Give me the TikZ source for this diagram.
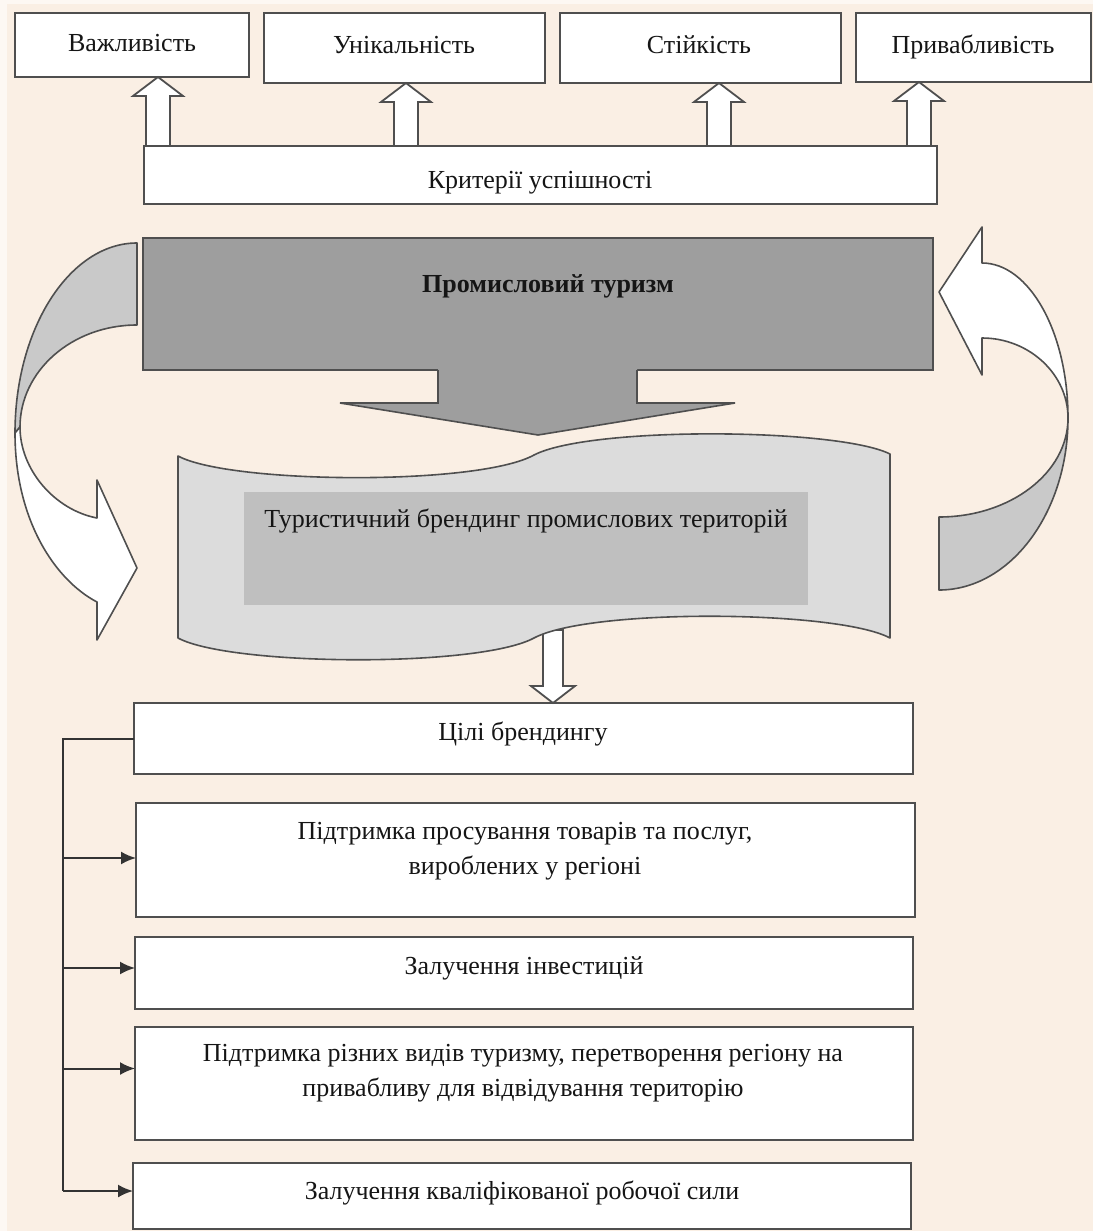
\documentclass[tikz,border=0pt]{standalone}
\usepackage{fontspec}
\setmainfont{Liberation Serif}
\usetikzlibrary{arrows.meta}
\definecolor{bg}{HTML}{FAEFE4}
\definecolor{edge}{HTML}{4F4F4F}
\definecolor{txt}{HTML}{151515}
\definecolor{darkbox}{HTML}{9E9E9E}
\definecolor{banner}{HTML}{DCDCDC}
\definecolor{innerbox}{HTML}{BFBFBF}
\definecolor{ribbon}{HTML}{C9C9C9}
\begin{document}
\begin{tikzpicture}[x=1pt,y=-1pt,
  box/.style={draw=edge, line width=2.2pt, fill=white, inner sep=0pt, outer sep=0pt},
  lbl/.style={font=\fontsize{26}{35}\selectfont, text=txt, align=center, inner sep=0pt, anchor=base},
  hollow/.style={draw=edge, line width=1.8pt, fill=white, line join=miter},
  outl/.style={draw=edge, line width=1.6pt, line join=round},
  conn/.style={draw=black!80, line width=2pt},
  tip/.style={-{Latex[length=15pt,width=13pt]}}]
% background
\fill[bg] (0,0) rectangle (1093,1231);
\fill[white!55!bg] (0,0) rectangle (7,1231);
\fill[white!55!bg] (0,0) rectangle (1093,4);
\useasboundingbox (0,0) rectangle (1093,1231);

% top boxes
\node[box, minimum width=234pt, minimum height=64pt] (imp) at (132,45) {};
\node[box, minimum width=281pt, minimum height=70pt] (uniq) at (404.5,48) {};
\node[box, minimum width=281pt, minimum height=70pt] (stab) at (700.5,48) {};
\node[box, minimum width=235pt, minimum height=69pt] (attr) at (973.5,47.5) {};
\node[lbl] (impt) at (132,52) {Важливість};
\node[lbl] (uniqt) at (404,53) {Унікальність};
\node[lbl] (stabt) at (699,53) {Стійкість};
\node[lbl] (attrt) at (973,53) {Привабливість};

% criteria box
\node[box, minimum width=793pt, minimum height=58pt] (crit) at (540.5,175) {};
\node[lbl] (critt) at (540,188) {Критерії успішності};

% hollow up arrows
\newcommand{\hollowup}[2]{%
  \draw[hollow] (#1) -- ([xshift=25pt,yshift=-19pt]#1) -- ([xshift=12pt,yshift=-19pt]#1)
    -- ([xshift=12pt]#2) -- ([xshift=-12pt]#2) -- ([xshift=-12pt,yshift=-19pt]#1)
    -- ([xshift=-25pt,yshift=-19pt]#1) -- cycle;}
\coordinate (u1) at (158,0 |- imp.south);  \coordinate (l1) at (158,0 |- crit.north);
\coordinate (u2) at (406,0 |- uniq.south); \coordinate (l2) at (406,0 |- crit.north);
\coordinate (u3) at (719,0 |- stab.south); \coordinate (l3) at (719,0 |- crit.north);
\coordinate (u4) at (919,0 |- attr.south); \coordinate (l4) at (919,0 |- crit.north);
\hollowup{u1}{l1}
\hollowup{u2}{l2}
\hollowup{u3}{l3}
\hollowup{u4}{l4}

% industrial tourism box with big arrow
\node[draw=edge, line width=1.8pt, fill=darkbox, minimum width=790pt, minimum height=132pt, inner sep=0pt] (prom) at (538,304) {};
\fill[darkbox] (438,368) -- (438,403) -- (340,403) -- (538,435) -- (735,403) -- (637,403) -- (637,368) -- cycle;
\draw[edge, line width=1.6pt, line join=miter] (438,370) -- (438,403) -- (340,403) -- (538,435) -- (735,403) -- (637,403) -- (637,370);
\node[lbl, font=\fontsize{26}{35}\selectfont\bfseries] (promt) at (548,292) {Промисловий туризм};

% small hollow down arrow (behind banner)
\node[box, minimum width=779pt, minimum height=71pt] (goals) at (523.5,738.5) {};
\coordinate (dtip) at (553,0 |- goals.north);
\draw[hollow] (dtip) -- ([xshift=22pt,yshift=17pt]dtip) -- ([xshift=10pt,yshift=17pt]dtip)
  -- (563,630) -- (543,630) -- ([xshift=-10pt,yshift=17pt]dtip) -- ([xshift=-22pt,yshift=17pt]dtip) -- cycle;

% banner (wave)
\draw[outl, fill=banner] (178,456) .. controls (230,484) and (478,486) .. (534,455)
  .. controls (590,426) and (838,428) .. (890,454) -- (890,638)
  .. controls (838,610) and (590,608) .. (534,638)
  .. controls (478,668) and (230,666) .. (178,638) -- cycle;
\node[fill=innerbox, minimum width=564pt, minimum height=113pt, inner sep=0pt] (brandbox) at (526,548.5) {};
\node[lbl] (brandt) at (526,527) {Туристичний брендинг промислових територій};

% left curved arrow
\draw[outl, fill=ribbon] (137,243) .. controls (70,243) and (15,328) .. (15,433) -- (20,427)
  .. controls (20,371) and (72,325) .. (137,325) -- cycle;
\draw[outl, fill=white] (20,427) .. controls (20,470) and (55,510) .. (97,518) -- (97,480) -- (137,568)
  -- (97,640) -- (97,602) .. controls (55,580) and (15,520) .. (15,433) -- cycle;

% right curved arrow
\draw[outl, fill=white] (982,263) .. controls (1029,263) and (1068,332) .. (1068,418)
  .. controls (1068,374) and (1029,338) .. (982,338) -- (982,375) -- (939,292) -- (982,227) -- cycle;
\draw[outl, fill=ribbon] (1068,418) .. controls (1068,513) and (1010,590) .. (939,590) -- (939,517)
  .. controls (1010,517) and (1068,473) .. (1068,418) -- cycle;

% goals
\node[lbl] (goalst) at (523,740) {Цілі брендингу};
\node[box, minimum width=779pt, minimum height=114pt] (g2) at (525.5,860) {};
\node[box, minimum width=778pt, minimum height=72pt] (g3) at (524,973) {};
\node[box, minimum width=778pt, minimum height=113pt] (g4) at (524,1083.5) {};
\node[box, minimum width=778pt, minimum height=66pt] (g5) at (522,1196) {};
\node[lbl] (g2t) at (525,874) {Підтримка просування товарів та послуг,\\ вироблених у регіоні};
\node[lbl] (g3t) at (524,974) {Залучення інвестицій};
\node[lbl] (g4t) at (523,1096) {Підтримка різних видів туризму, перетворення регіону на\\ привабливу для відвідування територію};
\node[lbl] (g5t) at (522,1199) {Залучення кваліфікованої робочої сили};

% connectors
\coordinate (rail) at (63,0);
\coordinate (a2) at ([yshift=2pt]g2.west);
\coordinate (a3) at ([yshift=5pt]g3.west);
\coordinate (a4) at ([yshift=15pt]g4.west);
\coordinate (a5) at ([yshift=5pt]g5.west);
\draw[conn] (goals.west) -| (rail |- a5);
\draw[conn,tip] (rail |- a2) -- (a2);
\draw[conn,tip] (rail |- a3) -- (a3);
\draw[conn,tip] (rail |- a4) -- (a4);
\draw[conn,tip] (rail |- a5) -- (a5);
\end{tikzpicture}
\end{document}
